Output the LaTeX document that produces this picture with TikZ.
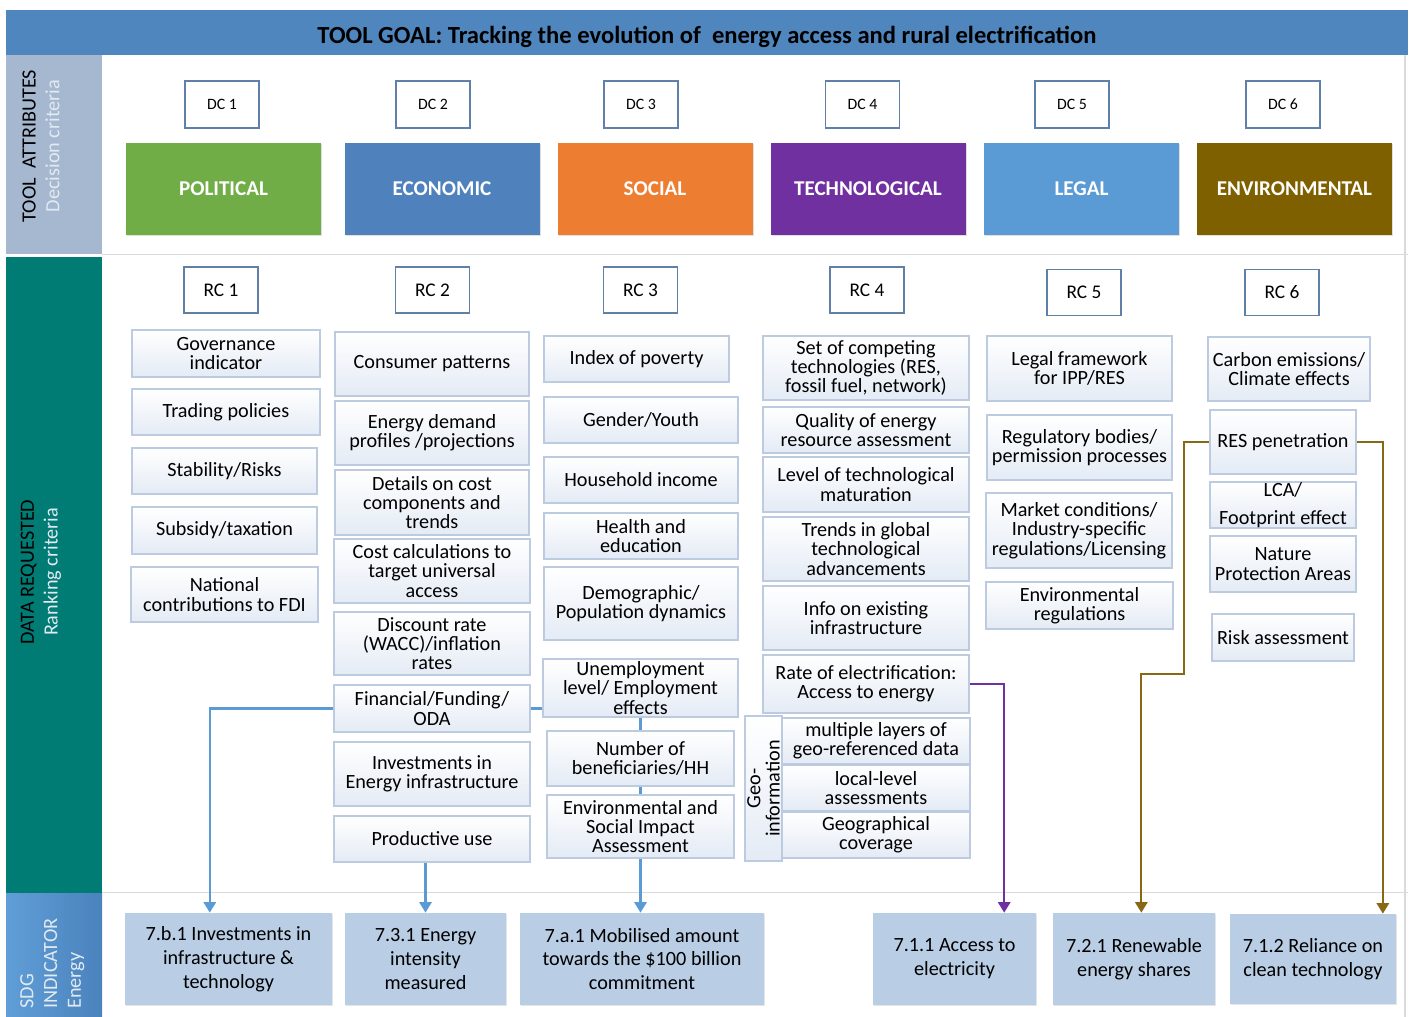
\documentclass[tikz,border=0pt]{standalone}
\usepackage{fontspec}
\setmainfont{Carlito}
\usetikzlibrary{positioning,calc,arrows.meta,shadows}

\definecolor{titlebar}{RGB}{80,134,190}
\definecolor{attrband}{RGB}{166,184,208}
\definecolor{databand}{RGB}{0,124,117}
\definecolor{sdgbandA}{RGB}{96,158,215}
\definecolor{sdgbandB}{RGB}{74,130,188}
\definecolor{bandtext}{RGB}{225,233,242}
\definecolor{dcline}{RGB}{96,128,168}
\definecolor{boxline}{RGB}{188,203,224}
\definecolor{boxfill}{RGB}{228,235,245}
\definecolor{sdgfill}{RGB}{185,205,229}
\definecolor{sepgray}{RGB}{218,218,218}
\definecolor{polgreen}{RGB}{112,173,71}
\definecolor{ecoblue}{RGB}{79,129,189}
\definecolor{socorange}{RGB}{237,125,49}
\definecolor{techpurple}{RGB}{112,48,160}
\definecolor{legalblue}{RGB}{91,155,213}
\definecolor{envbrown}{RGB}{127,96,0}
\definecolor{linkblue}{RGB}{91,155,213}
\definecolor{linkbrown}{RGB}{135,104,20}

\tikzset{
  sz/.style 2 args={minimum width=#1*0.02cm, minimum height=#2*0.02cm},
  dc box/.style={draw=dcline, line width=0.9pt, fill=white, inner sep=0pt, sz={74}{47}, font=\fontsize{9}{10}\selectfont},
  rc box/.style={draw=dcline, line width=0.9pt, fill=white, inner sep=0pt, sz={74}{46}, font=\fontsize{11}{12}\selectfont},
  cat block/.style={text=white, inner sep=0pt, sz={195}{92}, font=\bfseries\fontsize{12}{14}\selectfont, drop shadow={opacity=0.25, shadow xshift=0.8pt, shadow yshift=-0.8pt}},
  data block/.style={draw=boxline, line width=0.8pt, top color=white, bottom color=boxfill, align=center, inner sep=0pt, font=\fontsize{11.5}{11}\selectfont},
  sdg block/.style={fill=sdgfill, align=center, inner sep=0pt, font=\fontsize{11.5}{13.6}\selectfont, drop shadow={opacity=0.2, shadow xshift=0.8pt, shadow yshift=-0.8pt}},
  band label/.style={rotate=90, align=center, inner sep=0pt, font=\fontsize{11.5}{13.5}\selectfont},
  sep line/.style={draw=sepgray, line width=0.8pt},
  blue link/.style={draw=linkblue, line width=1.2pt},
  tip/.style={-{Triangle[width=7pt,length=6pt]}}
}

\begin{document}
\begin{tikzpicture}[x=0.02cm, y=-0.02cm]

  \useasboundingbox (0,0) rectangle (1413,1017);
  \fill[white] (0,0) rectangle (1413,1017);

  % frame: title bar and side bands
  \node[fill=titlebar, inner sep=0pt, sz={1402}{45}, text height=13pt, text depth=0pt, font=\bfseries\fontsize{14}{16}\selectfont] (goal) at (707,32.5) {TOOL GOAL: Tracking the evolution of\ \ energy access and rural electrification};
  \node[fill=attrband, inner sep=0pt, sz={96}{199}] (attr band) at (54,154.5) {};
  \node[fill=databand, inner sep=0pt, sz={96}{636}] (data band) at (54,575) {};
  \node[left color=sdgbandA, right color=sdgbandB, inner sep=0pt, sz={96}{124}] (sdg band) at (54,955) {};
  \node[band label] (attr label) at (41,146) {TOOL\ \ ATTRIBUTES\\\textcolor{bandtext}{Decision criteria}};
  \node[band label] (data label) at (41,572) {DATA REQUESTED\\\textcolor{bandtext}{Ranking criteria}};
  \node[band label, anchor=north west, align=left, text=bandtext] (sdg label) at (20,1009) {SDG\\INDICATOR\\Energy};

  \draw[sep line] (attr band.south east) -- (attr band.south east -| goal.east);
  \draw[sep line] (sdg band.north east) -- (sdg band.north east -| goal.east);
  \draw[sep line] ([xshift=-2pt]goal.south east) -- ([xshift=-2pt]goal.south east |- sdg band.south);

  % decision criteria
  \node[dc box] (dc1) at (222,104.5) {DC 1};
  \node[dc box] (dc2) at (433,104.5) {DC 2};
  \node[dc box] (dc3) at (641,104.5) {DC 3};
  \node[dc box] (dc4) at (862.5,104.5) {DC 4};
  \node[dc box] (dc5) at (1072,104.5) {DC 5};
  \node[dc box] (dc6) at (1283,104.5) {DC 6};

  \node[cat block, fill=polgreen] (political) at (223.5,189) {POLITICAL};
  \node[cat block, fill=ecoblue] (economic) at (442,189) {ECONOMIC};
  \node[cat block, fill=socorange] (social) at (655,189) {SOCIAL};
  \node[cat block, fill=techpurple] (technological) at (868,189) {TECHNOLOGICAL};
  \node[cat block, fill=legalblue] (legal) at (1081.5,189) {LEGAL};
  \node[cat block, fill=envbrown] (environmental) at (1294.5,189) {ENVIRONMENTAL};

  % ranking criteria
  \node[rc box] (rc1) at (221,290) {RC 1};
  \node[rc box] (rc2) at (432.5,290) {RC 2};
  \node[rc box] (rc3) at (640.5,290) {RC 3};
  \node[rc box] (rc4) at (867,290) {RC 4};
  \node[rc box] (rc5) at (1084,292.5) {RC 5};
  \node[rc box] (rc6) at (1282,292.5) {RC 6};

  % political data
  \node[data block, sz={188}{47}] (governance) at (226,353.5) {Governance\\indicator};
  \node[data block, sz={188}{46}] (trading) at (226,412) {Trading policies};
  \node[data block, sz={185}{46}] (stability) at (224.5,471) {Stability/Risks};
  \node[data block, sz={185}{47}] (subsidy) at (224.5,530.5) {Subsidy/taxation};
  \node[data block, sz={187}{55}] (fdi) at (224.5,594.5) {National\\contributions to FDI};

  % economic data
  \node[data block, sz={194}{64}] (consumer) at (432,364) {Consumer patterns};
  \node[data block, sz={194}{64}] (demand) at (432,433) {Energy demand\\profiles /projections};
  \node[data block, sz={194}{65}] (cost) at (432,502.5) {Details on cost\\components and\\trends};
  \node[data block, sz={196}{64}] (costcalc) at (432,571) {Cost calculations to\\target universal\\access};
  \node[data block, sz={196}{63}] (discount) at (432,643.5) {Discount rate\\(WACC)/inflation\\rates};
  \node[data block, sz={196}{47}] (funding) at (432,708.5) {Financial/Funding/\\ODA};
  \node[data block, sz={196}{64}] (investments) at (432,774) {Investments in\\Energy infrastructure};
  \node[data block, sz={196}{46}] (productive) at (432,839) {Productive use};

  % social data
  \node[data block, sz={185}{46}] (poverty) at (636.5,359) {Index of poverty};
  \node[data block, sz={194}{46}] (gender) at (641,420) {Gender/Youth};
  \node[data block, sz={194}{46}] (income) at (641,480) {Household income};
  \node[data block, sz={194}{46}] (health) at (641,536) {Health and\\education};
  \node[data block, sz={194}{73}] (demographic) at (641,603.5) {Demographic/\\Population dynamics};
  \node[data block, sz={195}{58}] (unemployment) at (640.5,688) {Unemployment\\level/ Employment\\effects};
  \node[data block, sz={187}{55}] (beneficiaries) at (640.5,758.5) {Number of\\beneficiaries/HH};
  \node[data block, sz={187}{63}] (esia) at (640.5,826.5) {Environmental and\\Social Impact\\Assessment};

  % technological data
  \node[data block, sz={206}{64}] (competing) at (866,368) {Set of competing\\technologies (RES,\\fossil fuel, network)};
  \node[data block, sz={206}{46}] (quality) at (866,430) {Quality of energy\\resource assessment};
  \node[data block, sz={206}{55}] (maturation) at (866,484.5) {Level of technological\\maturation};
  \node[data block, sz={206}{64}] (trends) at (866,549) {Trends in global\\technological\\advancements};
  \node[data block, sz={206}{64}] (existing) at (866,618) {Info on existing\\infrastructure};
  \node[data block, sz={206}{58}] (electrification) at (866,684) {Rate of electrification:\\Access to energy};
  \node[data block, rotate=90, sz={145}{37}] (geoinfo) at (763.5,788.5) {Geo-\\information};
  \node[data block, sz={188}{46}] (layers) at (876,741) {multiple layers of\\geo-referenced data};
  \node[data block, sz={188}{46}] (local) at (876,788) {local-level\\assessments};
  \node[data block, sz={188}{46}] (coverage) at (876,835) {Geographical\\coverage};

  % legal data
  \node[data block, sz={185}{65}] (framework) at (1079.5,368.5) {Legal framework\\for IPP/RES};
  \node[data block, sz={185}{65}] (regulatory) at (1079.5,447.5) {Regulatory bodies/\\permission processes};
  \node[data block, sz={186}{75}] (market) at (1079,530.5) {Market conditions/\\Industry-specific\\regulations/Licensing};
  \node[data block, sz={187}{47}] (envreg) at (1079.5,605.5) {Environmental\\regulations};

  % environmental data
  \node[data block, sz={162}{64}] (carbon) at (1289,369) {Carbon emissions/\\Climate effects};
  \node[data block, sz={146}{64}] (respen) at (1283,442) {RES penetration};
  \node[data block, sz={146}{46}] (lca) at (1283,505) {LCA/\\[5pt]Footprint effect};
  \node[data block, sz={146}{56}] (nature) at (1283,564) {Nature\\Protection Areas};
  \node[data block, sz={142}{47}] (risk) at (1283,637.5) {Risk assessment};

  % sdg indicators
  \node[sdg block, sz={207}{92}] (s7b1) at (228.5,959) {7.b.1 Investments in\\infrastructure \&\\technology};
  \node[sdg block, sz={161}{92}] (s731) at (425.5,959) {7.3.1 Energy\\intensity\\measured};
  \node[sdg block, sz={244}{92}] (s7a1) at (642,959) {7.a.1 Mobilised amount\\towards the \$100 billion\\commitment};
  \node[sdg block, sz={163}{92}] (s711) at (954.5,959) {7.1.1 Access to\\electricity};
  \node[sdg block, sz={162}{92}] (s721) at (1134,959) {7.2.1 Renewable\\energy shares};
  \node[sdg block, sz={166}{90}] (s712) at (1313,959) {7.1.2 Reliance on\\clean technology};

  % links
  \draw[blue link, tip] (funding.west) -| (s7b1.112);
  \draw[blue link] (funding.east) -- (funding.east -| unemployment.west);
  \draw[blue link] (unemployment.south) -- (beneficiaries.north);
  \draw[blue link] (beneficiaries.south) -- (esia.north);
  \draw[blue link, tip] (esia.south) -- (esia.south |- s7a1.north);
  \draw[blue link, tip] (productive.south -| s731.north) -- (s731.north);
  \draw[draw=techpurple, line width=1.2pt, tip] (electrification.east) -| (s711.43);
  \coordinate (res bend) at (1184,674);
  \draw[draw=linkbrown, line width=1.2pt, tip] (respen.west) -| (res bend) -| (s721.81);
  \draw[draw=linkbrown, line width=1.2pt, tip] (respen.east) -| (s712.33.5);

\end{tikzpicture}
\end{document}
